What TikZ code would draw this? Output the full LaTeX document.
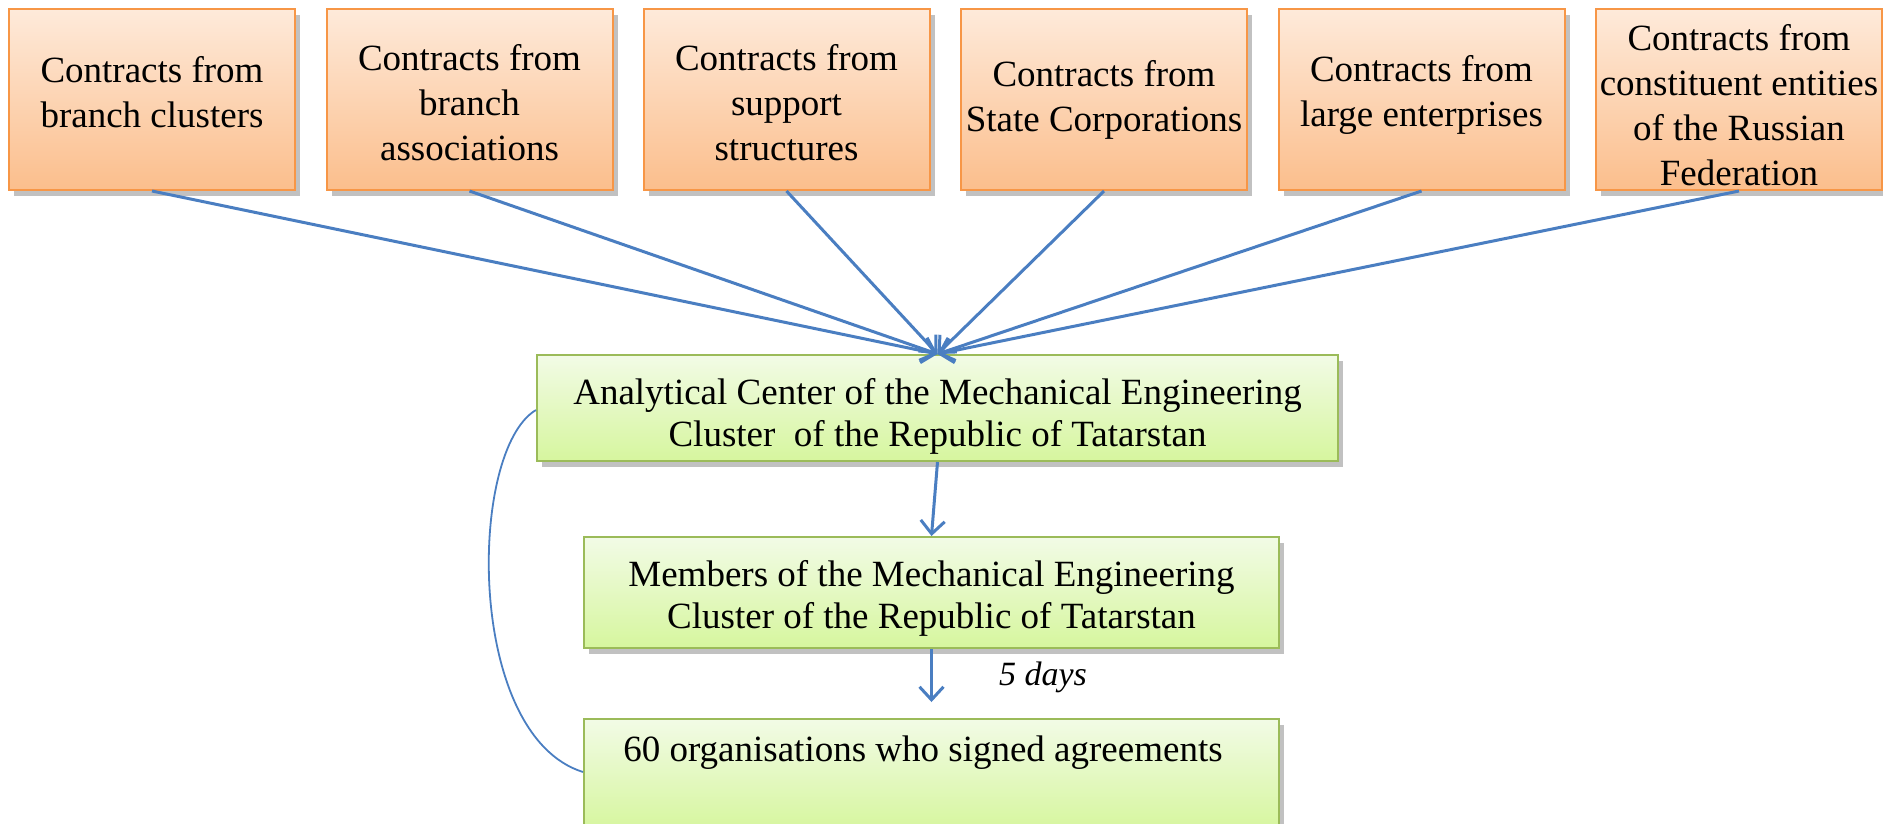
\documentclass[tikz,border=0pt]{standalone}
\usepackage{fontspec}
\setmainfont{Liberation Serif}
\usetikzlibrary{shadows,arrows.meta}
\definecolor{ortop}{RGB}{254,234,218}
\definecolor{orbot}{RGB}{251,190,140}
\definecolor{orline}{RGB}{247,150,70}
\definecolor{grtop}{RGB}{242,251,230}
\definecolor{grbot}{RGB}{214,246,158}
\definecolor{grline}{RGB}{155,187,89}
\definecolor{arr}{RGB}{74,126,193}
\tikzset{
  orbox/.style={draw=orline, line width=2pt, top color=ortop, bottom color=orbot,
    minimum width=286pt, minimum height=181pt, inner sep=0pt,
    drop shadow={shadow xshift=5pt, shadow yshift=-6pt, opacity=0.35, fill=black!70}},
  grbox/.style={draw=grline, line width=2pt, top color=grtop, bottom color=grbot,
    inner sep=0pt,
    drop shadow={shadow xshift=5pt, shadow yshift=-6pt, opacity=0.35, fill=black!70}},
  txt/.style={inner sep=0pt, align=center, font=\fontsize{37}{45}\selectfont},
  gtxt/.style={inner sep=0pt, align=center, font=\fontsize{37}{42}\selectfont},
  conn/.style={draw=arr, line width=3pt, -{Straight Barb[length=13pt, width=24pt, line width=3pt]}},
  loopline/.style={draw=arr, line width=1.8pt}
}
\begin{document}
\begin{tikzpicture}[x=1pt, y=-1pt]
\useasboundingbox (0,0) rectangle (1883,823);
\node[orbox] (b1) at (152,99.5) {};
\node[orbox] (b2) at (469.5,99.5) {};
\node[orbox] (b3) at (786.5,99.5) {};
\node[orbox] (b4) at (1104,99.5) {};
\node[orbox] (b5) at (1421.5,99.5) {};
\node[orbox] (b6) at (1739,99.5) {};
\node[txt, yshift=7.2pt] (b1t) at (b1) {Contracts from\\branch clusters};
\node[txt, yshift=-3.6pt] (b2t) at (b2) {Contracts from\\branch\\associations};
\node[txt, yshift=-3.6pt] (b3t) at (b3) {Contracts from\\support\\structures};
\node[txt] (b4t) at (b4) {Contracts from\\State Corporations};
\node[txt, yshift=4.2pt] (b5t) at (b5) {Contracts from\\large enterprises};
\node[txt, yshift=-5.4pt] (b6t) at (b6) {Contracts from\\constituent entities\\of the Russian\\Federation};
\node[grbox, minimum width=801pt, minimum height=106pt] (ac) at (937.5,408) {};
\node[gtxt, yshift=-8.4pt] (act) at (ac)
  {Analytical Center of the Mechanical Engineering\\Cluster\ \ of the Republic of Tatarstan};
\node[grbox, minimum width=695pt, minimum height=111pt] (mem) at (931.5,592.5) {};
\node[gtxt, yshift=-6pt] (memt) at (mem)
  {Members of the Mechanical Engineering\\Cluster of the Republic of Tatarstan};
\node[grbox, minimum width=695pt, minimum height=111pt] (org) at (931.5,774.5) {};
\node[gtxt, anchor=base] (orgt) at (923,761) {60 organisations who signed agreements};
\node[font=\fontsize{34}{40}\selectfont\itshape] (days) at (1043,677) {5 days};
\foreach \b in {b1,b2,b3,b4,b5,b6}
  \draw[conn] (\b.south) -- (ac.north);
\draw[conn] (ac.south) -- (mem.north);
\draw[conn, shorten >=16pt] (mem.south) -- (org.north);
\draw[loopline] (ac.west |- 0,410) .. controls (468,450) and (465,735) .. (org.west |- 0,772);
\end{tikzpicture}
\end{document}
